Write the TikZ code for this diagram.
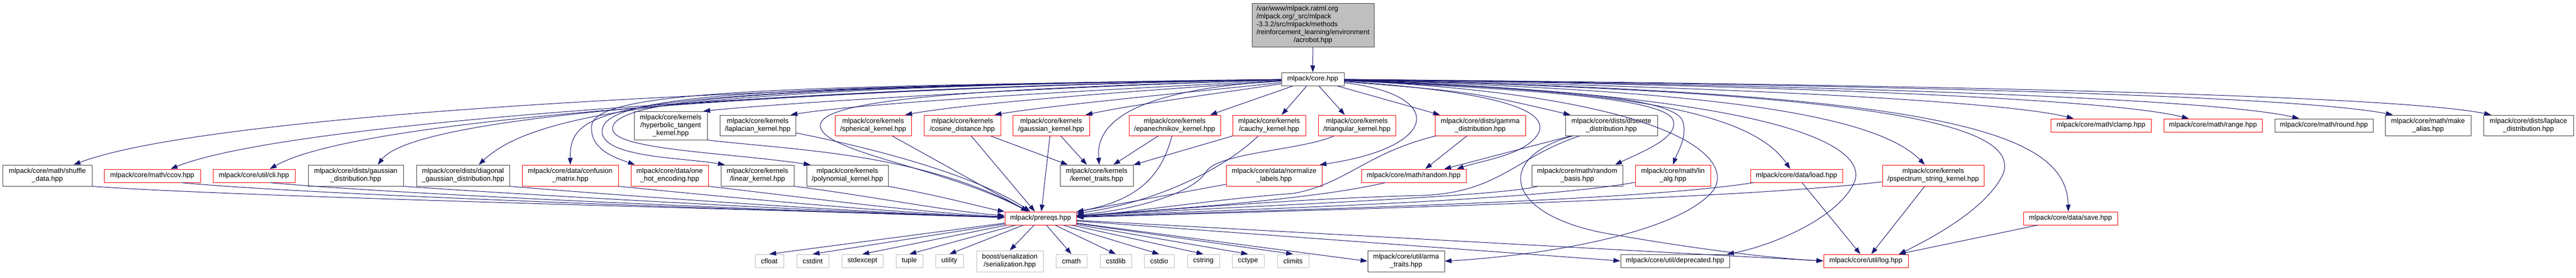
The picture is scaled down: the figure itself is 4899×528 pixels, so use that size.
\documentclass[tikz,border=0pt]{standalone}
\usepackage{fontspec}
\setmainfont{Liberation Sans}
\usetikzlibrary{arrows.meta,calc}
\definecolor{edgeblue}{HTML}{191970}
\definecolor{boxgray}{HTML}{404040}
\definecolor{sysgray}{HTML}{BFBFBF}
\tikzset{
  base/.style={draw, rectangle, inner sep=0pt, align=center, line width=1pt, text=black,
    font=\fontsize{13.2}{15}\selectfont},
  rbox/.style={base, draw=red},
  bbox/.style={base, draw=boxgray},
  gbox/.style={base, draw=sysgray},
  rootbox/.style={base, draw=boxgray, fill=sysgray},
  edge/.style={draw=edgeblue, line width=1pt, -{Triangle[length=13pt,width=9pt]}}
}
\newcommand{\mk}[7]{\node[#1,minimum width=#5pt,minimum height=#6pt] (#2) at (#3,#4) {#7};}
\begin{document}
\begin{tikzpicture}[x=1pt,y=-1pt]
\useasboundingbox (0,0) rectangle (4899,528);
\fill[white] (0,0) rectangle (4899,528);
% root and core
\mk{rootbox}{root}{2497}{47.5}{232}{83}{\begin{tabular}{@{}l@{}}/var/www/mlpack.ratml.org\\/mlpack.org/\_src/mlpack\\-3.3.2/src/mlpack/methods\\/reinforcement\_learning/environment\\\multicolumn{1}{@{}c@{}}{/acrobot.hpp}\end{tabular}}
\mk{bbox}{core}{2496.5}{150.5}{119}{25}{mlpack/core.hpp}
% row 1
\mk{bbox}{hyper}{1275.5}{239}{139}{54}{mlpack/core/kernels\\/hyperbolic\_tangent\\\_kernel.hpp}
\mk{bbox}{laplacian}{1441}{238.5}{144}{39}{mlpack/core/kernels\\/laplacian\_kernel.hpp}
\mk{rbox}{spherical}{1660.5}{238.5}{145}{39}{mlpack/core/kernels\\/spherical\_kernel.hpp}
\mk{rbox}{cosine}{1830}{238.5}{146}{39}{mlpack/core/kernels\\/cosine\_distance.hpp}
\mk{rbox}{gkernel}{1999}{238.5}{146}{39}{mlpack/core/kernels\\/gaussian\_kernel.hpp}
\mk{rbox}{epan}{2234}{238.5}{174}{39}{mlpack/core/kernels\\/epanechnikov\_kernel.hpp}
\mk{rbox}{cauchy}{2413.5}{238.5}{139}{39}{mlpack/core/kernels\\/cauchy\_kernel.hpp}
\mk{rbox}{triangular}{2580.5}{238.5}{147}{39}{mlpack/core/kernels\\/triangular\_kernel.hpp}
\mk{rbox}{gamma}{2815}{238.5}{172}{39}{mlpack/core/dists/gamma\\\_distribution.hpp}
\mk{bbox}{discrete}{3064.5}{238.5}{175}{39}{mlpack/core/dists/discrete\\\_distribution.hpp}
\mk{rbox}{clamp}{3995.5}{238.5}{191}{25}{mlpack/core/math/clamp.hpp}
\mk{rbox}{range}{4208.5}{238.5}{187}{25}{mlpack/core/math/range.hpp}
\mk{bbox}{round}{4419.5}{238.5}{187}{25}{mlpack/core/math/round.hpp}
\mk{bbox}{alias}{4617.5}{238.5}{163}{39}{mlpack/core/math/make\\\_alias.hpp}
\mk{bbox}{laplace}{4808.5}{238.5}{171}{39}{mlpack/core/dists/laplace\\\_distribution.hpp}
% row 2
\mk{bbox}{shuffle}{90}{334}{170}{40}{mlpack/core/math/shuffle\\\_data.hpp}
\mk{rbox}{ccov}{289.5}{334.5}{183}{25}{mlpack/core/math/ccov.hpp}
\mk{rbox}{cli}{483}{334.5}{156}{25}{mlpack/core/util/cli.hpp}
\mk{bbox}{gaussdist}{676.5}{334}{181}{40}{mlpack/core/dists/gaussian\\\_distribution.hpp}
\mk{bbox}{diag}{880.5}{334}{177}{40}{mlpack/core/dists/diagonal\\\_gaussian\_distribution.hpp}
\mk{rbox}{confusion}{1084.5}{334}{183}{40}{mlpack/core/data/confusion\\\_matrix.hpp}
\mk{rbox}{onehot}{1273.5}{334}{147}{40}{mlpack/core/data/one\\\_hot\_encoding.hpp}
\mk{bbox}{linear}{1440.5}{334}{139}{40}{mlpack/core/kernels\\/linear\_kernel.hpp}
\mk{bbox}{polynomial}{1611.5}{334}{155}{40}{mlpack/core/kernels\\/polynomial\_kernel.hpp}
\mk{bbox}{ktraits}{2085.5}{334}{139}{40}{mlpack/core/kernels\\/kernel\_traits.hpp}
\mk{rbox}{normalize}{2423}{334}{182}{40}{mlpack/core/data/normalize\\\_labels.hpp}
\mk{rbox}{random}{2688.5}{334.5}{199}{25}{mlpack/core/math/random.hpp}
\mk{bbox}{rbasis}{2999.5}{334}{173}{40}{mlpack/core/math/random\\\_basis.hpp}
\mk{rbox}{linalg}{3181.5}{334}{143}{40}{mlpack/core/math/lin\\\_alg.hpp}
\mk{rbox}{load}{3416.5}{334.5}{175}{25}{mlpack/core/data/load.hpp}
\mk{rbox}{pspectrum}{3676.5}{334}{193}{40}{mlpack/core/kernels\\/pspectrum\_string\_kernel.hpp}
% row 3
\mk{rbox}{prereqs}{1979}{415.5}{136}{25}{mlpack/prereqs.hpp}
\mk{rbox}{save}{3937.5}{415.5}{179}{25}{mlpack/core/data/save.hpp}
% row 4
\mk{gbox}{cfloat}{1463}{496.5}{54}{25}{cfloat}
\mk{gbox}{cstdint}{1545.5}{496.5}{61}{25}{cstdint}
\mk{gbox}{stdexcept}{1640}{496.5}{78}{25}{stdexcept}
\mk{gbox}{tuple}{1729.5}{496.5}{51}{25}{tuple}
\mk{gbox}{utility}{1805.5}{496.5}{53}{25}{utility}
\mk{gbox}{boost}{1920.5}{497}{127}{40}{boost/serialization\\/serialization.hpp}
\mk{gbox}{cmath}{2037.5}{496.5}{59}{25}{cmath}
\mk{gbox}{cstdlib}{2122}{496.5}{60}{25}{cstdlib}
\mk{gbox}{cstdio}{2204.5}{496.5}{57}{25}{cstdio}
\mk{gbox}{cstring}{2288.5}{496.5}{61}{25}{cstring}
\mk{gbox}{cctype}{2373.5}{496.5}{61}{25}{cctype}
\mk{gbox}{climits}{2459}{496.5}{60}{25}{climits}
\mk{bbox}{arma}{2674}{497}{146}{40}{mlpack/core/util/arma\\\_traits.hpp}
\mk{bbox}{deprecated}{3185.5}{496.5}{207}{25}{mlpack/core/util/deprecated.hpp}
\mk{rbox}{log}{3548.5}{496.5}{161}{25}{mlpack/core/util/log.hpp}

% ---------- edges ----------
\draw[edge] (root) -- (core);
% core -> row 2 left
\draw[edge] (core) .. controls (1500,160) and (400,215) .. ([xshift=50pt]shuffle.north);
\draw[edge] (core) .. controls (1600,165) and (550,230) .. ([xshift=35pt]ccov.north);
\draw[edge] (core) .. controls (1700,165) and (700,215) .. ([xshift=30pt]cli.north);
\draw[edge] (core) .. controls (1700,165) and (800,205) .. ([xshift=42pt]gaussdist.north);
\draw[edge] (core) .. controls (1400,165) and (1030,200) .. ([xshift=30pt]diag.north);
\draw[edge] (core) .. controls (1150,170) and (1084,200) .. (confusion.north);
\draw[edge] (core) .. controls (1500,165) and (1130,170) .. (1125,240) .. controls (1122,285) and (1170,300) .. ([xshift=8pt]onehot.north west);
\draw[edge] (core) .. controls (1500,165) and (1145,175) .. (1145,250) .. controls (1145,300) and (1300,300) .. ([xshift=8pt]linear.north west);
\draw[edge] (core) .. controls (1500,165) and (1165,185) .. (1165,245) .. controls (1165,285) and (1380,290) .. ([xshift=8pt]polynomial.north west);
% core -> row 1
\draw[edge] (core) .. controls (2000,165) and (1500,195) .. ([xshift=-8pt]hyper.north east);
\draw[edge] (core) .. controls (2100,170) and (1650,195) .. ([xshift=-10pt]laplacian.north east);
\draw[edge] (core) .. controls (2200,170) and (1850,195) .. ([xshift=-12pt]spherical.north east);
\draw[edge] (core) .. controls (2300,172) and (2000,200) .. ([xshift=-12pt]cosine.north east);
\draw[edge] (core) .. controls (2300,180) and (2150,200) .. ([xshift=-8pt]gkernel.north east);
\draw[edge] (core) -- ([xshift=-20pt]epan.north east);
\draw[edge] (core) -- ([xshift=24pt]cauchy.north);
\draw[edge] (core) -- ([xshift=-23pt]triangular.north);
\draw[edge] (core) -- ([xshift=10pt]gamma.north west);
\draw[edge] (core) .. controls (2800,175) .. ([xshift=10pt]discrete.north west);
\draw[edge] (core) .. controls (3200,162) and (3800,190) .. ([xshift=-52pt]clamp.north);
\draw[edge] (core) .. controls (3300,160) and (4000,185) .. ([xshift=-46pt]range.north);
\draw[edge] (core) .. controls (3400,160) and (4200,185) .. ([xshift=-47pt]round.north);
\draw[edge] (core) .. controls (3500,160) and (4350,180) .. ([xshift=-67pt]alias.north);
\draw[edge] (core) .. controls (3600,160) and (4550,180) .. ([xshift=-71pt]laplace.north);
% core -> row 2 middle/right
\draw[edge] (core) .. controls (2250,165) and (2080,200) .. ([xshift=5pt]ktraits.north);
\draw[edge] (core) .. controls (2750,180) and (2740,280) .. ([xshift=-5pt]normalize.north east);
\draw[edge] (core) .. controls (2850,175) and (2950,210) .. (2925,255) .. controls (2900,295) and (2820,305) .. ([xshift=82pt]random.north);
\draw[edge] (core) .. controls (2900,170) and (3150,185) .. (3180,225) .. controls (3200,260) and (3120,290) .. ([xshift=-15pt]rbasis.north east);
\draw[edge] (core) .. controls (2900,168) and (3180,180) .. (3200,230) .. controls (3210,260) and (3190,290) .. (linalg.north);
\draw[edge] (core) .. controls (3000,170) and (3320,195) .. ([xshift=-12pt]load.north);
\draw[edge] (core) .. controls (3200,170) and (3560,210) .. ([xshift=-16pt]pspectrum.north);
\draw[edge] (core) .. controls (3700,175) and (3930,250) .. ([xshift=-4pt]save.north);
\draw[edge] (core) .. controls (3600,175) and (3840,240) .. (3810,330) .. controls (3780,395) and (3680,450) .. ([xshift=-18pt]log.north east);
\draw[edge] (core) .. controls (3400,180) and (3560,280) .. (3525,350) .. controls (3490,420) and (3360,470) .. ([xshift=-5pt]deprecated.north east);
\draw[edge] (core) .. controls (3150,180) and (3300,290) .. (3260,360) .. controls (3200,440) and (2950,485) .. (arma.east);
\draw[edge] (core) .. controls (1900,168) and (1555,185) .. (1560,240) .. controls (1565,290) and (1800,320) .. (prereqs);
% row 2 left -> prereqs
\draw[edge] (shuffle.south east) .. controls (450,375) and (1500,400) .. (prereqs);
\draw[edge] ([xshift=55pt]ccov.south) .. controls (600,372) and (1500,402) .. (prereqs);
\draw[edge] ([xshift=30pt]cli.south) .. controls (750,370) and (1550,404) .. (prereqs);
\draw[edge] (gaussdist.south east) .. controls (950,368) and (1600,405) .. (prereqs);
\draw[edge] (diag.south east) .. controls (1150,370) and (1650,406) .. (prereqs);
\draw[edge] (confusion.south east) .. controls (1350,372) and (1700,406) .. (prereqs);
\draw[edge] (onehot.south east) .. controls (1500,372) and (1750,405) .. (prereqs);
\draw[edge] (linear.south east) .. controls (1650,372) and (1800,402) .. (prereqs);
\draw[edge] (polynomial.south east) .. controls (1800,375) and (1870,395) .. (prereqs);
% row 1 -> prereqs / kernel traits
\draw[edge] (hyper.south east) .. controls (1500,285) and (1750,290) .. (prereqs);
\draw[edge] (laplacian) .. controls (1650,280) and (1850,330) .. (prereqs);
\draw[edge] (spherical) -- (prereqs);
\draw[edge] (cosine) -- (prereqs);
\draw[edge] (gkernel) -- (prereqs);
\draw[edge] (cosine) -- (ktraits);
\draw[edge] (gkernel) -- (ktraits);
\draw[edge] (epan) -- (ktraits);
\draw[edge] (cauchy) -- (ktraits);
\draw[edge] (epan) .. controls (2210,330) and (2170,380) .. (prereqs);
\draw[edge] (cauchy) .. controls (2330,320) and (2200,385) .. (prereqs);
\draw[edge] (triangular) .. controls (2480,285) and (2320,290) .. (2295,325) .. controls (2270,370) and (2150,400) .. (prereqs);
\draw[edge] (gamma) .. controls (2600,290) and (2560,350) .. (2460,368) .. controls (2300,380) and (2150,405) .. (prereqs);
\draw[edge] (discrete) .. controls (2880,300) and (2850,368) .. (2700,372) .. controls (2450,378) and (2150,405) .. (prereqs);
\draw[edge] (gamma) -- ([xshift=22pt]random.north);
\draw[edge] (discrete) -- ([xshift=58pt]random.north);
\draw[edge] (discrete) .. controls (2840,300) and (2860,410) .. (3060,445) .. controls (3250,478) and (3380,492) .. (log.west);
% row 2 right -> prereqs
\draw[edge] (normalize) -- (prereqs);
\draw[edge] (random) .. controls (2500,380) and (2200,400) .. (prereqs);
\draw[edge] (rbasis) .. controls (2850,375) and (2300,395) .. (prereqs);
\draw[edge] (linalg) .. controls (2900,385) and (2300,400) .. (prereqs);
\draw[edge] (load) .. controls (3100,385) and (2400,400) .. (prereqs);
\draw[edge] (pspectrum) .. controls (3300,380) and (2500,400) .. (prereqs);
\draw[edge] (load) -- (log);
\draw[edge] (pspectrum) -- (log);
\draw[edge] (save) -- (log);
% prereqs -> system headers
\foreach \t in {cfloat,cstdint,stdexcept,tuple,utility,boost,cmath,cstdlib,cstdio,cstring,cctype,climits}
  \draw[edge] (prereqs) -- (\t.north);
\draw[edge] (prereqs) -- (arma.west);
\draw[edge] (prereqs) -- (deprecated.west);
\draw[edge] (prereqs) -- (log.west);
\end{tikzpicture}
\end{document}
